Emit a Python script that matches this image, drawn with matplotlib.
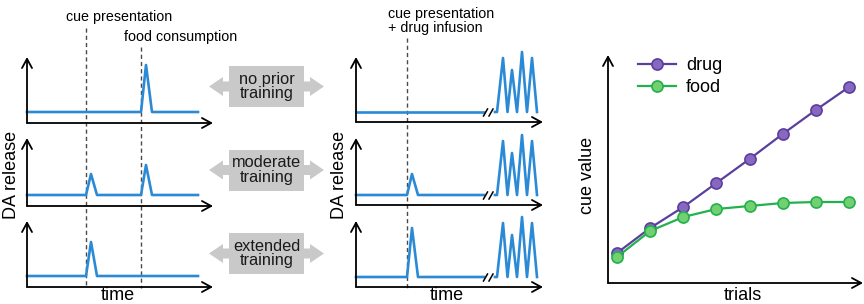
import matplotlib.pyplot as plt
import numpy as np
from matplotlib.patches import Polygon, Rectangle

W, H = 864, 304
plt.rcParams['font.family'] = ['Liberation Sans', 'DejaVu Sans']

# --- data ---
training = ["no prior\ntraining", "moderate\ntraining", "extended\ntraining"]

# left column: food reward (event times and peak DA heights)
left_cue_time = 59
left_food_time = 114
left_cue_peak = [0, 21, 34]
left_food_peak = [47, 30, 0]

# middle column: drug reward
mid_cue_time = 51
mid_cue_peak = [0, 21, 49]
drug_burst_t = [139, 141, 147, 151.5, 156, 161, 166, 171, 176, 181]
drug_burst = [0, 0, 54, 0, 42, 0, 60, 0, 54, 0]

# right panel
trials = [1, 2, 3, 4, 5, 6, 7, 8]
drug_value = [30, 55, 76, 100, 124, 149, 173, 196]
food_value = [26, 52, 66, 74, 77, 80, 81, 81]

BLUE = '#2b8ad6'
GRAY = '#c9c9c9'
PURPLE_L, PURPLE_F = '#5a3f9e', '#8767bf'
GREEN_L, GREEN_F = '#22b14c', '#72cf72'

fig = plt.figure(figsize=(W / 100, H / 100), dpi=100)

# overlay in pixel coordinates for annotations
ov = fig.add_axes([0, 0, 1, 1])
ov.set_xlim(0, W)
ov.set_ylim(H, 0)
ov.axis('off')


def px_axes(x0, x1, ytop, ybot):
    ax = fig.add_axes([x0 / W, 1 - ybot / H, (x1 - x0) / W, (ybot - ytop) / H])
    ax.patch.set_visible(False)
    for s in ax.spines.values():
        s.set_visible(False)
    ax.set_xticks([])
    ax.set_yticks([])
    arrow = dict(arrowstyle='->,head_length=0.55,head_width=0.3', lw=1.3,
                 color='black', shrinkA=0, shrinkB=0, mutation_scale=12)
    ax.annotate('', xy=(1, 0), xytext=(0, 0), xycoords='axes fraction',
                arrowprops=arrow, annotation_clip=False)
    ax.annotate('', xy=(0, 1), xytext=(0, 0), xycoords='axes fraction',
                arrowprops=arrow, annotation_clip=False)
    return ax


def spike_trace(events, start, end):
    t, y = [start], [0]
    for t0, h in events:
        if h > 0:
            t += [t0, t0 + 5, t0 + 11]
            y += [0, h, 0]
    t.append(end)
    y.append(0)
    return t, y


rows = [(57, 123), (138, 206), (221, 287)]
mid_rows = [(57, 122), (138, 205), (221, 287)]

for i in range(3):
    # left panel
    ytop, ybot = rows[i]
    ax = px_axes(27, 213, ytop, ybot)
    ax.set_xlim(0, 186)
    ax.set_ylim(-11, ybot - ytop - 11)
    t, y = spike_trace([(left_cue_time, left_cue_peak[i]),
                        (left_food_time, left_food_peak[i])], 0, 171)
    ax.plot(t, y, color=BLUE, lw=1.9, clip_on=False)

    # middle panel
    ytop, ybot = mid_rows[i]
    ax = px_axes(356, 543, ytop, ybot)
    ax.set_xlim(0, 187)
    ax.set_ylim(-10, ybot - ytop - 10)
    t, y = spike_trace([(mid_cue_time, mid_cue_peak[i])], 0, 128)
    ax.plot(t, y, color=BLUE, lw=1.9, clip_on=False)
    ax.plot(drug_burst_t, drug_burst, color=BLUE, lw=1.9, clip_on=False)
    for bx in (127.5, 133):
        ax.plot([bx, bx + 4], [-4, 3], color='black', lw=1.1, clip_on=False)

    # gray double arrow with label
    cy = [86.5, 170, 253.5][i]
    arr = np.array([[209, cy], [223, cy - 9.5], [223, cy - 5], [310, cy - 5],
                    [310, cy - 9.5], [324, cy], [310, cy + 9.5], [310, cy + 5],
                    [223, cy + 5], [223, cy + 9.5]])
    ov.add_patch(Polygon(arr, closed=True, facecolor=GRAY, edgecolor='none'))
    ov.add_patch(Rectangle((229, cy - 20.5), 75, 41, facecolor=GRAY,
                           edgecolor='none'))
    ov.text(266.5, cy, training[i], ha='center', va='center', fontsize=11.8,
            linespacing=0.92, color='#1a1a1a')

# dashed event lines
dash = dict(color='#4a4a4a', lw=1, dashes=(3, 2.2))
ov.plot([86, 86], [28, 288], **dash)
ov.plot([141, 141], [47, 288], **dash)
ov.plot([407, 407], [38, 288], **dash)

ov.text(66, 17, 'cue presentation', fontsize=10.3, va='center', ha='left')
ov.text(124, 37, 'food consumption', fontsize=10.3, va='center', ha='left')
ov.text(388, 21, 'cue presentation\n+ drug infusion', fontsize=10.3,
        va='center', ha='left', linespacing=0.95)

ov.text(12, 175, 'DA release', fontsize=13, rotation=90, ha='center', va='center')
ov.text(340, 175, 'DA release', fontsize=13, rotation=90, ha='center', va='center')
ov.text(118, 296, 'time', fontsize=13, ha='center', va='center')
ov.text(447, 296, 'time', fontsize=13, ha='center', va='center')

# right panel: cue value over trials
ax = px_axes(608, 863, 55, 283)
sp = (849 - 617) / 7
ax.set_xlim(1 - 9 / sp, 1 + 246 / sp)
ax.set_ylim(0, 228)
ax.plot(trials, drug_value, color=PURPLE_L, lw=1.6, marker='o', markersize=8,
        markerfacecolor=PURPLE_F, markeredgecolor=PURPLE_L, markeredgewidth=1.2,
        label='drug', clip_on=False)
ax.plot(trials, food_value, color=GREEN_L, lw=1.6, marker='o', markersize=8,
        markerfacecolor=GREEN_F, markeredgecolor=GREEN_L, markeredgewidth=1.2,
        label='food', clip_on=False)
ax.legend(frameon=False, loc='upper left', bbox_to_anchor=(638 / W, 1 - 57 / H),
          bbox_transform=fig.transFigure, borderpad=0, borderaxespad=0,
          handlelength=2.1, handletextpad=0.55, labelspacing=0.3, fontsize=13)

ov.text(588, 175, 'cue value', fontsize=13, rotation=90, ha='center', va='center')
ov.text(743, 296, 'trials', fontsize=13, ha='center', va='center')

fig.savefig('out.png', dpi=100, facecolor='white')
